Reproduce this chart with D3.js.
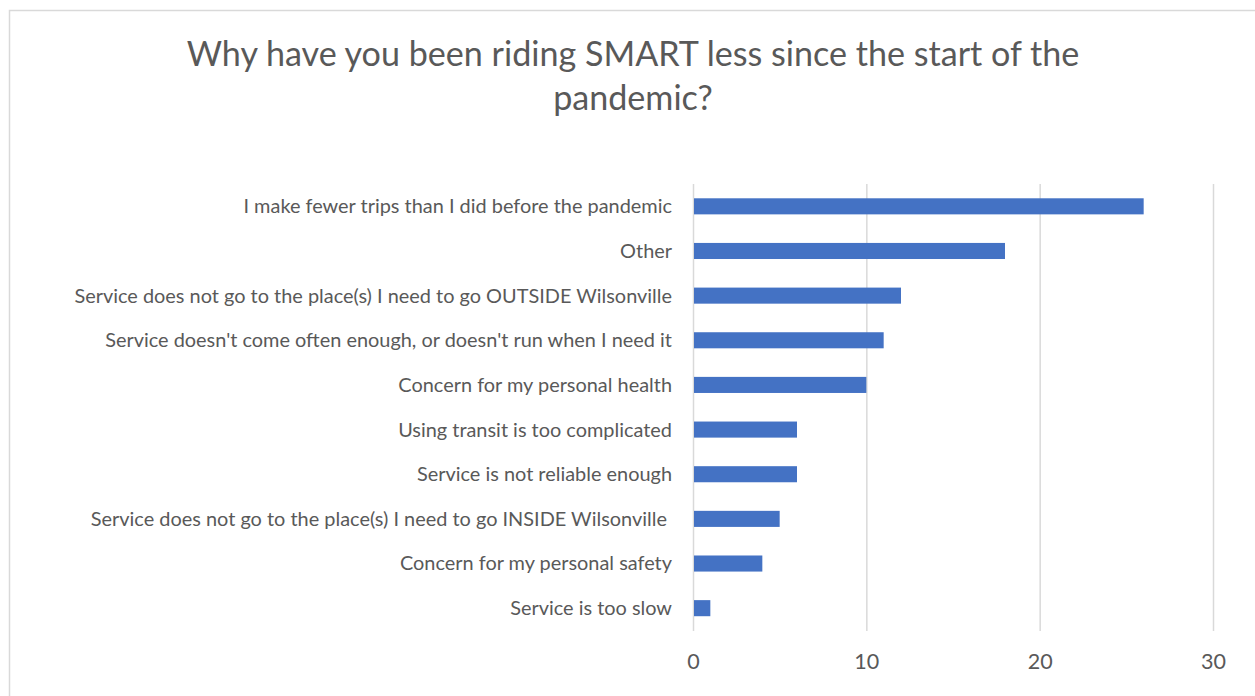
<!DOCTYPE html>
<html>
<head>
<meta charset="utf-8">
<script src="https://cdn.jsdelivr.net/npm/d3@7"></script>
<style>
  html, body { margin: 0; padding: 0; background: #fff; }
  svg { display: block; }
  text { font-family: Lato, "Open Sans", sans-serif; fill: #595959; white-space: pre; }
</style>
</head>
<body>
<svg id="chart" width="1255" height="696"></svg>
<script>
const titleLines = ["Why have you been riding SMART less since the start of the", "pandemic?"];
const categories = [
  "I make fewer trips than I did before the pandemic",
  "Other",
  "Service does not go to the place(s) I need to go OUTSIDE Wilsonville",
  "Service doesn't come often enough, or doesn't run when I need it",
  "Concern for my personal health",
  "Using transit is too complicated",
  "Service is not reliable enough",
  "Service does not go to the place(s) I need to go INSIDE Wilsonville ",
  "Concern for my personal safety",
  "Service is too slow"
];
const values = [26, 18, 12, 11, 10, 6, 6, 5, 4, 1];
const tickValues = [0, 10, 20, 30];

const svg = d3.select("#chart");

// chart border
svg.append("rect")
  .attr("x", 9.5).attr("y", 10.5)
  .attr("width", 1260).attr("height", 700)
  .attr("fill", "#fff").attr("stroke", "#d9d9d9").attr("stroke-width", 1.5);

function fit(sel, targetWidth, base) {
  sel.style("font-size", base + "px");
  const w = sel.node().getComputedTextLength();
  sel.style("font-size", (base * targetWidth / w) + "px");
}

// title
const t1 = svg.append("text").attr("x", 633).attr("y", 66).attr("text-anchor", "middle").text(titleLines[0]);
fit(t1, 893, 32);
const titleSize = parseFloat(t1.style("font-size"));
svg.append("text").attr("x", 633).attr("y", 110).attr("text-anchor", "middle")
  .style("font-size", titleSize + "px").text(titleLines[1]);

const x = d3.scaleLinear().domain([0, 30]).range([693, 1213]);
const y = d3.scaleBand().domain(categories).range([184, 630.5]).paddingInner(0.64).paddingOuter(0.32);

// gridlines
svg.append("g").selectAll("line").data(tickValues).join("line")
  .attr("x1", d => x(d) + 0.5).attr("x2", d => x(d) + 0.5)
  .attr("y1", 184).attr("y2", 631)
  .attr("stroke", "#d9d9d9").attr("stroke-width", 1.5);

// bars
svg.append("g").selectAll("rect").data(values).join("rect")
  .attr("x", x(0) + 1)
  .attr("y", (d, i) => y(categories[i]))
  .attr("width", d => x(d) - x(0) - 1)
  .attr("height", y.bandwidth())
  .attr("fill", "#4472C4");

// category labels
const labels = svg.append("g").selectAll("text").data(categories).join("text")
  .attr("x", 672)
  .attr("y", d => y(d) + y.bandwidth() / 2)
  .attr("dy", "0.35em")
  .attr("text-anchor", "end")
  .text(d => d);
const first = labels.filter((d, i) => i === 0);
fit(first, 429, 18);
const labSize = parseFloat(first.style("font-size"));
labels.style("font-size", labSize + "px");

// x axis tick labels
const axis = d3.axisBottom(x).tickValues(tickValues).tickSize(0).tickPadding(0);
const ax = svg.append("g").attr("transform", "translate(0,654)").call(axis);
ax.select(".domain").remove();
ax.selectAll("text")
  .attr("dy", "0.71em")
  .style("font-family", "Lato, 'Open Sans', sans-serif")
  .style("font-size", (labSize * 1.08) + "px")
  .attr("fill", "#595959");
</script>
</body>
</html>
